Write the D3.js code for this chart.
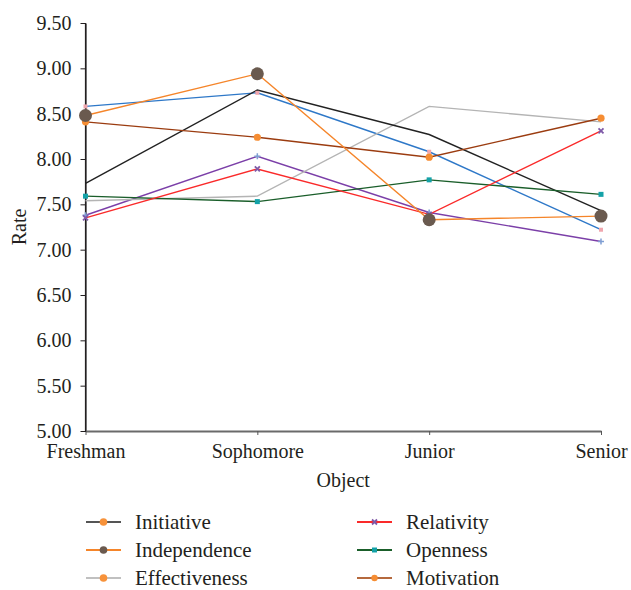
<!DOCTYPE html>
<html>
<head>
<meta charset="utf-8">
<script src="https://cdn.jsdelivr.net/npm/d3@7"></script>
<style>
  body { margin: 0; background: #fff; }
  text { font-family: "Liberation Serif", "DejaVu Serif", serif; fill: #231f20; }
</style>
</head>
<body>
<div id="chart"></div>
<script>
// data
var categories = ["Freshman", "Sophomore", "Junior", "Senior"];
var initiative    = [7.73, 8.76, 8.27, 7.43];
var independence  = [8.48, 8.94, 7.33, 7.37];
var effectiveness = [7.54, 7.59, 8.58, 8.41];
var relativity    = [7.35, 7.89, 7.39, 8.31];
var openness      = [7.59, 7.53, 7.77, 7.61];
var motivation    = [8.41, 8.24, 8.02, 8.45];
// two extra lines in the plot with no legend entry
var unlabeledBlue   = [8.58, 8.73, 8.08, 7.22];
var unlabeledPurple = [7.38, 8.03, 7.41, 7.09];
var yTicks = [5.0, 5.5, 6.0, 6.5, 7.0, 7.5, 8.0, 8.5, 9.0, 9.5];

function draw() {
  var width = 631, height = 590;
  var margin = {top: 23, right: 30, bottom: 159, left: 85.5};

  var svg = d3.select("#chart").append("svg")
      .attr("width", width)
      .attr("height", height);

  var x = d3.scalePoint()
      .domain(categories)
      .range([margin.left, width - margin.right]);

  var y = d3.scaleLinear()
      .domain([5, 9.5])
      .range([height - margin.bottom, margin.top]);

  // series: line colour, marker shape and colour (plot)
  var series = [
    {name: "Unlabeled blue", values: unlabeledBlue, color: "#2e78c8", marker: "square", mcolor: "#f0a6ae", msize: 4},
    {name: "Unlabeled purple", values: unlabeledPurple, color: "#7b3fa8", marker: "plus", mcolor: "#7f9fd3", msize: 6},
    {name: "Effectiveness", values: effectiveness, color: "#b4b4b4", marker: null},
    {name: "Initiative", values: initiative, color: "#222222", marker: null},
    {name: "Motivation", values: motivation, color: "#9b3c10", marker: "circle", mcolor: "#f68d33", msize: 3.6},
    {name: "Openness", values: openness, color: "#1a5e2a", marker: "square", mcolor: "#14a2a8", msize: 5},
    {name: "Relativity", values: relativity, color: "#fa2a2a", marker: "x", mcolor: "#7f5aa8", msize: 5},
    {name: "Independence", values: independence, color: "#f5852a", marker: "circle", mcolor: "#6a5a4f", msize: 6.5}
  ];

  var serif = "'Liberation Serif', 'DejaVu Serif', serif";

  // y axis
  svg.append("g")
      .attr("transform", "translate(" + margin.left + ",0)")
      .call(d3.axisLeft(y).tickValues(yTicks).tickFormat(d3.format(".2f")).tickSize(5).tickSizeOuter(0).tickPadding(9))
      .call(function(g) {
        g.select(".domain").attr("stroke", "#231f20").attr("stroke-width", 1.2);
        g.selectAll(".tick line").attr("stroke", "#231f20");
        g.selectAll(".tick text").style("font-size", "20px").style("font-family", serif).attr("fill", "#231f20");
      });

  // x axis
  svg.append("g")
      .attr("transform", "translate(0," + (height - margin.bottom) + ")")
      .call(d3.axisBottom(x).tickSize(4).tickSizeOuter(0).tickPadding(9))
      .call(function(g) {
        g.select(".domain").attr("stroke", "#6a6a6a").attr("stroke-width", 2);
        g.selectAll(".tick line").attr("stroke", "#555");
        g.selectAll(".tick text").style("font-size", "20px").style("font-family", serif).attr("fill", "#231f20");
      });

  // redraw the left axis line on top of the grey bottom line
  svg.append("line")
      .attr("x1", margin.left).attr("x2", margin.left)
      .attr("y1", margin.top).attr("y2", height - margin.bottom + 1)
      .attr("stroke", "#231f20").attr("stroke-width", 1.2);

  svg.append("text")
      .attr("transform", "translate(19," + ((margin.top + height - margin.bottom) / 2) + ") rotate(-90)")
      .attr("text-anchor", "middle")
      .attr("dy", "0.35em")
      .style("font-size", "20px")
      .text("Rate");

  svg.append("text")
      .attr("x", (margin.left + width - margin.right) / 2)
      .attr("y", 487)
      .attr("text-anchor", "middle")
      .style("font-size", "20px")
      .text("Object");

  var line = d3.line()
      .x(function(d, i) { return x(categories[i]); })
      .y(function(d) { return y(d); });

  svg.append("g").selectAll("path")
      .data(series)
      .enter()
      .append("path")
      .attr("d", function(d) { return line(d.values); })
      .attr("fill", "none")
      .attr("stroke", function(d) { return d.color; })
      .attr("stroke-width", 1.4);

  function marker(g, type, color, size, cx, cy) {
    if (type == "circle") {
      g.append("circle").attr("cx", cx).attr("cy", cy).attr("r", size).attr("fill", color);
    } else if (type == "square") {
      g.append("rect").attr("x", cx - size / 2).attr("y", cy - size / 2)
        .attr("width", size).attr("height", size).attr("fill", color);
    } else if (type == "x") {
      var s = size / 2;
      g.append("path").attr("d", "M" + (cx - s) + "," + (cy - s) + "L" + (cx + s) + "," + (cy + s) +
        "M" + (cx - s) + "," + (cy + s) + "L" + (cx + s) + "," + (cy - s))
        .attr("stroke", color).attr("stroke-width", 1.8);
    } else if (type == "plus") {
      var p = size / 2;
      g.append("path").attr("d", "M" + (cx - p) + "," + cy + "L" + (cx + p) + "," + cy +
        "M" + cx + "," + (cy - p) + "L" + cx + "," + (cy + p))
        .attr("stroke", color).attr("stroke-width", 1.5);
    }
  }

  var marks = svg.append("g");
  series.forEach(function(s) {
    if (!s.marker) return;
    s.values.forEach(function(v, i) {
      marker(marks, s.marker, s.mcolor, s.msize, x(categories[i]), y(v));
    });
  });

  // legend
  var legendItems = [
    {name: "Initiative", color: "#555555", m: "circle", mc: "#f7923a", ms: 3.8, col: 0, row: 0},
    {name: "Independence", color: "#f5852a", m: "circle", mc: "#6a5a4f", ms: 3.8, col: 0, row: 1},
    {name: "Effectiveness", color: "#c0c0c0", m: "circle", mc: "#f7923a", ms: 3.8, col: 0, row: 2},
    {name: "Relativity", color: "#fa2a2a", m: "x", mc: "#7f5aa8", ms: 5, col: 1, row: 0},
    {name: "Openness", color: "#1a5e2a", m: "square", mc: "#14a2a8", ms: 5, col: 1, row: 1},
    {name: "Motivation", color: "#b5693d", m: "circle", mc: "#f68d33", ms: 3.2, col: 1, row: 2}
  ];
  var colX = [86, 357];
  var rowY = [522, 550, 578];

  var legend = svg.append("g");
  legendItems.forEach(function(d) {
    var lx = colX[d.col], ly = rowY[d.row];
    legend.append("line")
        .attr("x1", lx).attr("x2", lx + 35)
        .attr("y1", ly).attr("y2", ly)
        .attr("stroke", d.color).attr("stroke-width", 1.8);
    marker(legend, d.m, d.mc, d.ms, lx + 17.5, ly);
    legend.append("text")
        .attr("x", lx + 49)
        .attr("y", ly)
        .attr("dy", "0.32em")
        .style("font-size", "21px")
        .text(d.name);
  });
}

window.onload = draw;
</script>
</body>
</html>
